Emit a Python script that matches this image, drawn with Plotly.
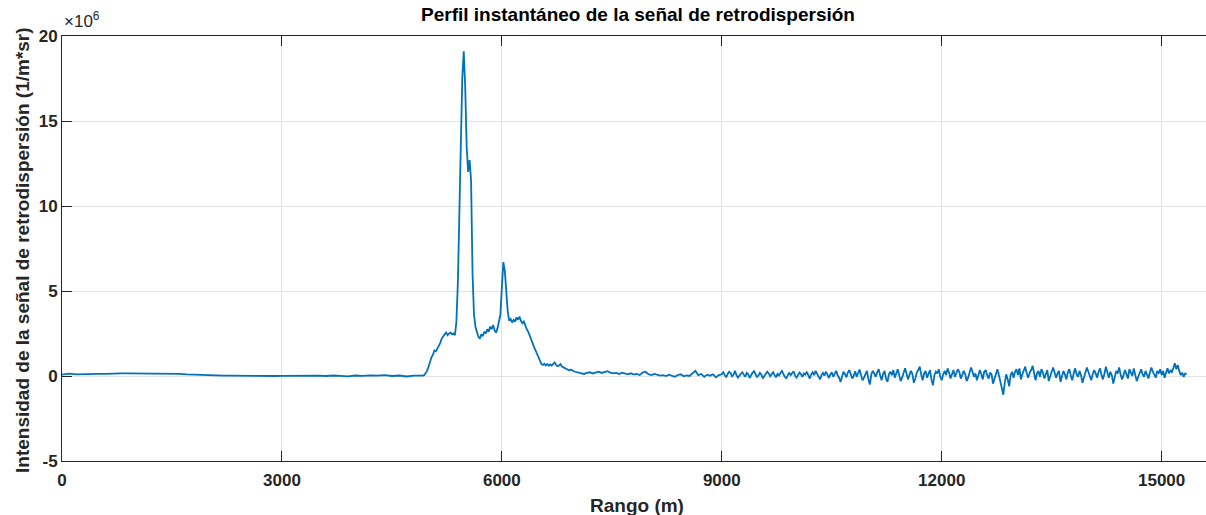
import numpy as np
import plotly.graph_objects as go

# Backscatter profile, intensity in units of 1e6 (1/m*sr).
# Near range: 0 .. 4800 m, sampled every 100 m
near_start, near_step = 0, 100
near_vals = [
    0.08, 0.14, 0.10, 0.12, 0.11, 0.13, 0.12, 0.15, 0.15, 0.15,
    0.15, 0.15, 0.15, 0.15, 0.15, 0.14, 0.12, 0.09, 0.07, 0.06,
    0.04, 0.03, 0.02, 0.02, 0.01, 0.02, 0.00, 0.02, 0.01, 0.00,
    0.01, 0.02, -0.01, 0.03, 0.01, 0.02, 0.00, 0.03, 0.01, -0.02,
    0.03, 0.01, 0.04, 0.02, 0.05, 0.00, 0.03, -0.03, 0.02,
]

# Aerosol / cloud layer: 4900 .. 6980 m, sampled every 20 m
layer_start, layer_step = 4900, 20
layer_vals = [
    0.00, 0.02, 0.05, 0.15, 0.30, 0.55, 0.85, 1.10, 1.25, 1.50,
    1.45, 1.60, 1.75, 1.95, 2.20, 2.35, 2.45, 2.55, 2.40, 2.50,
    2.55, 2.45, 2.50, 2.40, 3.20, 5.50, 10.0, 14.5, 17.5, 19.1,
    17.0, 13.5, 12.0, 12.7, 11.5, 6.0, 3.6, 2.9, 2.6, 2.3,
    2.2, 2.45, 2.35, 2.6, 2.5, 2.75, 2.6, 2.9, 2.75, 3.0,
    2.7, 2.55, 2.8, 3.2, 3.6, 5.2, 6.7, 6.2, 4.9, 3.8,
    3.25, 3.35, 3.15, 3.3, 3.2, 3.45, 3.3, 3.5, 3.25, 3.1,
    3.2, 2.95, 2.75, 2.6, 2.35, 2.1, 1.9, 1.7, 1.5, 1.3,
    1.1, 0.9, 0.7, 0.65, 0.72, 0.62, 0.7, 0.6, 0.68, 0.62,
    0.7, 0.8, 0.65, 0.58, 0.62, 0.7, 0.55, 0.5, 0.45, 0.42,
    0.4, 0.32, 0.38, 0.3, 0.28,
]

# Clearing range: 7000 .. 8960 m, sampled every 40 m
mid_start, mid_step = 7000, 40
mid_vals = [
    0.25, 0.2, 0.15, 0.12, 0.18, 0.22, 0.15, 0.2, 0.25, 0.18,
    0.22, 0.28, 0.2, 0.15, 0.18, 0.12, 0.2, 0.15, 0.1, 0.16,
    0.08, 0.12, 0.06, 0.2, 0.25, 0.1, 0.05, 0.12, 0.08, 0.02,
    0.05, 0.0, 0.08, 0.03, -0.05, 0.06, 0.1, -0.02, 0.04, 0.0,
    0.15, 0.3, 0.05, 0.12, -0.05, 0.08, 0.02, 0.1, -0.08, 0.05,
]

# Far range (noise dominated): 9000 .. 15340 m, sampled every 20 m
far_start, far_step = 9000, 20
far_vals = [
    0.10, 0.22, 0.05, -0.08, 0.12, 0.25, 0.18, -0.02, 0.08, 0.30,
    0.05, -0.10, 0.02, 0.15, 0.22, 0.08, -0.05, 0.18, 0.10, -0.12,
    0.05, 0.20, 0.28, 0.10, -0.05, 0.02, 0.18, 0.08, -0.15, 0.00,
    0.12, 0.25, 0.15, -0.02, 0.10, 0.22, 0.05, -0.08, 0.12, 0.03,
    0.18, 0.30, 0.12, -0.05, -0.12, 0.08, 0.20, 0.05, 0.15, 0.28,
    0.02, -0.10, 0.05, 0.20, 0.10, -0.05, 0.15, 0.08, 0.25, 0.00,
    -0.15, 0.10, 0.22, 0.05, 0.30, 0.12, -0.08, -0.20, 0.05, 0.18,
    0.02, 0.25, 0.10, -0.12, 0.08, 0.22, -0.05, 0.15, 0.30, 0.05,
    -0.10, -0.35, 0.05, 0.25, 0.12, -0.08, 0.20, 0.35, 0.10, -0.15,
    0.02, 0.28, -0.05, 0.18, 0.38, 0.05, -0.25, -0.10, 0.15, 0.30,
    -0.20, -0.50, 0.10, 0.30, 0.15, -0.05, 0.22, 0.40, 0.05, -0.25,
    0.12, 0.30, -0.15, -0.35, 0.10, 0.25, 0.05, 0.35, -0.10, 0.20,
    0.40, 0.05, -0.30, -0.10, 0.25, 0.45, 0.15, -0.20, 0.05, 0.30,
    0.12, -0.40, -0.15, 0.20, 0.35, 0.55, 0.10, -0.25, 0.15, 0.30,
    -0.10, 0.20, 0.35, -0.20, -0.55, 0.05, 0.25, 0.15, 0.40, -0.05,
    -0.25, 0.10, 0.30, 0.05, 0.45, 0.20, -0.15, 0.10, 0.35, -0.05,
    0.15, 0.40, 0.25, -0.15, 0.05, 0.30, 0.12, -0.30, -0.10, 0.20,
    0.50, 0.25, -0.05, 0.15, -0.25, 0.05, 0.35, 0.10, -0.20, 0.25,
    0.35, 0.05, -0.15, 0.20, 0.10, -0.45, -0.20, 0.15, 0.40, 0.05,
    -0.30, -0.70, -1.10, -0.40, 0.10, -0.20, -0.60, 0.05, 0.25, -0.10,
    0.25, 0.40, 0.05, 0.45, -0.20, 0.10, 0.30, 0.55, 0.15, -0.10,
    0.20, 0.35, 0.60, 0.05, -0.25, 0.15, 0.30, -0.05, 0.40, 0.20,
    -0.15, 0.10, 0.35, -0.30, 0.05, 0.25, 0.50, 0.20, -0.10, 0.15,
    0.30, -0.35, -0.05, 0.30, 0.10, -0.20, 0.20, 0.40, 0.05, -0.25,
    0.15, 0.45, 0.10, -0.05, 0.30, 0.05, -0.40, -0.15, 0.20, 0.50,
    0.25, 0.00, -0.25, 0.10, 0.35, 0.15, -0.10, 0.25, 0.45, 0.05,
    -0.20, 0.15, 0.55, 0.20, -0.10, 0.25, 0.05, -0.45, -0.15, 0.30,
    0.15, 0.50, 0.10, -0.20, 0.05, 0.35, 0.10, -0.15, 0.40, 0.20,
    0.00, 0.45, 0.15, -0.30, -0.05, 0.25, 0.40, 0.10, -0.05, 0.30,
    0.05, -0.15, 0.20, 0.50, 0.25, 0.10, -0.10, 0.30, 0.15, 0.40,
    0.05, 0.30, -0.10, 0.20, 0.45, 0.15, 0.35, 0.20, 0.55, 0.75,
    0.40, 0.65, 0.30, 0.05, 0.20, -0.05, 0.15, 0.10,
]

x_ticks = [0, 3000, 6000, 9000, 12000, 15000]
y_ticks = [-5, 0, 5, 10, 15, 20]

rango = np.concatenate([
    near_start + near_step * np.arange(len(near_vals)),
    layer_start + layer_step * np.arange(len(layer_vals)),
    mid_start + mid_step * np.arange(len(mid_vals)),
    far_start + far_step * np.arange(len(far_vals)),
])
intensidad = np.array(near_vals + layer_vals + mid_vals + far_vals)

FONT = "Liberation Sans, Arial, sans-serif"
AX = "#262626"
GRID = "#e3e3e3"

fig = go.Figure(go.Scatter(
    x=rango, y=intensidad, mode="lines",
    line=dict(color="#0072BD", width=1.8),
))

fig.update_layout(
    width=1206, height=515,
    margin=dict(l=62, r=0, t=36, b=54),
    paper_bgcolor="white", plot_bgcolor="white",
    showlegend=False,
    font=dict(family=FONT, color=AX),
    title=dict(
        text="<b>Perfil instantáneo de la señal de retrodispersión</b>",
        x=638 / 1206, xanchor="center", xref="container",
        y=1 - 14 / 515, yanchor="middle", yref="container",
        font=dict(size=19, color="black", family=FONT),
    ),
)

fig.update_xaxes(
    range=[0, 15605], tickvals=x_ticks, ticktext=[f"<b>{v}</b>" for v in x_ticks],
    ticks="inside", ticklen=10, tickwidth=1, tickcolor=AX,
    showline=True, linecolor=AX, linewidth=1, mirror="ticks",
    showgrid=True, gridcolor=GRID, gridwidth=1, zeroline=False,
    tickfont=dict(size=17, color=AX, family=FONT), ticklabelstandoff=4,
)
fig.update_yaxes(
    range=[-5, 20], tickvals=y_ticks, ticktext=[f"<b>{v}</b>" for v in y_ticks],
    ticks="inside", ticklen=10, tickwidth=1, tickcolor=AX,
    showline=True, linecolor=AX, linewidth=1, mirror=False,
    showgrid=True, gridcolor=GRID, gridwidth=1, zeroline=False,
    tickfont=dict(size=17, color=AX, family=FONT),
)

fig.add_annotation(
    text="<b>Rango (m)</b>", xref="paper", yref="paper",
    x=(637 - 62) / 1144, y=(461 - 505) / 425, xanchor="center", yanchor="middle",
    showarrow=False, font=dict(size=19, color=AX, family=FONT),
)
fig.add_annotation(
    text="<b>Intensidad de la señal de retrodispersión (1/m*sr)</b>",
    xref="paper", yref="paper", textangle=-90,
    x=(22 - 62) / 1144, y=(461 - 250) / 425, xanchor="center", yanchor="middle",
    showarrow=False, font=dict(size=19, color=AX, family=FONT),
)
fig.add_annotation(
    text="×10<sup>6</sup>", xref="paper", yref="paper",
    x=0, y=(461 - 33) / 425, xanchor="left", yanchor="bottom",
    showarrow=False, font=dict(size=17, color=AX, family=FONT),
)

fig.write_html("out.html")
